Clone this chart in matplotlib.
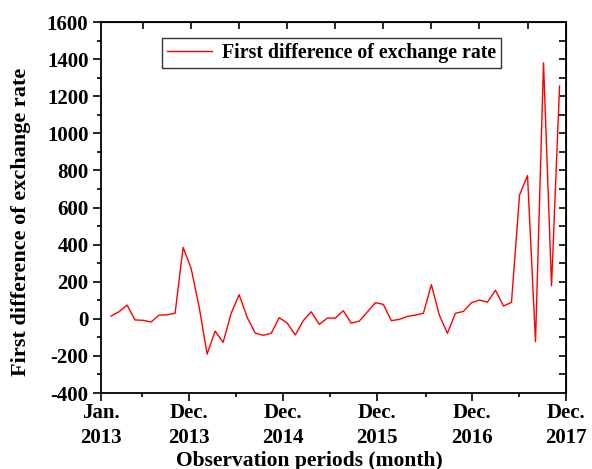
import matplotlib
matplotlib.use('Agg')
import matplotlib.pyplot as plt
import numpy as np

# monthly first difference (Feb 2013 onwards)
months = np.arange(1, 58)
diff_rate = [15, 38, 74, -6, -8, -17, 20, 22, 30, 385,
             272, 65, -190, -66, -127, 30, 130, 8, -77, -89,
             -78, 6, -23, -87, -10, 38, -30, 4, 4, 44,
             -24, -12, 37, 87, 78, -10, -3, 13, 20, 30,
             184, 19, -78, 30, 40, 87, 101, 90, 154, 69,
             89, 666, 773, -123, 1380, 178, 1255]

tick_pos = [-0.25, 10.7, 22.45, 34.25, 46.1, 57.8]
tick_labels = ['Jan.\n2013', 'Dec.\n2013', 'Dec.\n2014', 'Dec.\n2015', 'Dec.\n2016', 'Dec.\n2017']
minor_pos = [4.9, 16.6, 28.4, 40.3, 52.0]

plt.rcParams['font.family'] = ['Liberation Serif', 'DejaVu Serif']
plt.rcParams['font.weight'] = 'bold'
plt.rcParams['axes.unicode_minus'] = False

fig = plt.figure(figsize=(5.92, 4.69), dpi=100)
ax = fig.add_axes([0.1706, 0.162, 0.7854, 0.791])

ax.plot(months, diff_rate, color='red', lw=1.0, label='First difference of exchange rate')

ax.set_xlim(-0.25, 57.8)
ax.set_ylim(-400, 1600)
ax.set_yticks(np.arange(-400, 1601, 200))
ax.set_yticks(np.arange(-300, 1600, 200), minor=True)
ax.set_xticks(tick_pos)
ax.set_xticklabels(tick_labels, linespacing=1.35)
ax.set_xticks(minor_pos, minor=True)

ax.tick_params(axis='both', which='major', direction='out', length=6, width=1.2,
               labelsize=15, pad=3)
ax.tick_params(axis='x', which='major', pad=1)
ax.tick_params(axis='both', which='minor', direction='out', length=3, width=1.2)

for s in ax.spines.values():
    s.set_linewidth(1.3)

top = ax.secondary_xaxis('top')
top.set_xticks(np.arange(5, 54, 6))
top.set_xticklabels([])
top.tick_params(direction='in', length=5, width=1.2)

right = ax.secondary_yaxis('right')
right.set_yticks(np.arange(-300, 1600, 100))
right.set_yticklabels([])
right.tick_params(direction='in', length=5, width=1.2)

ax.set_xlabel('Observation periods (month)', fontsize=15.5, fontweight='bold')
ax.xaxis.set_label_coords(0.449, -0.155)
ax.set_ylabel('First difference of exchange rate', fontsize=16, fontweight='bold')
ax.yaxis.set_label_coords(-0.15, 0.461)

leg = ax.legend(loc='upper center', bbox_to_anchor=(0.496, 0.957), fontsize=14.3,
                fancybox=False, edgecolor='black', handlelength=2.3,
                borderpad=0.25, handletextpad=0.5, borderaxespad=0)
leg.get_frame().set_linewidth(1.0)

fig.savefig('out.png', dpi=100)
